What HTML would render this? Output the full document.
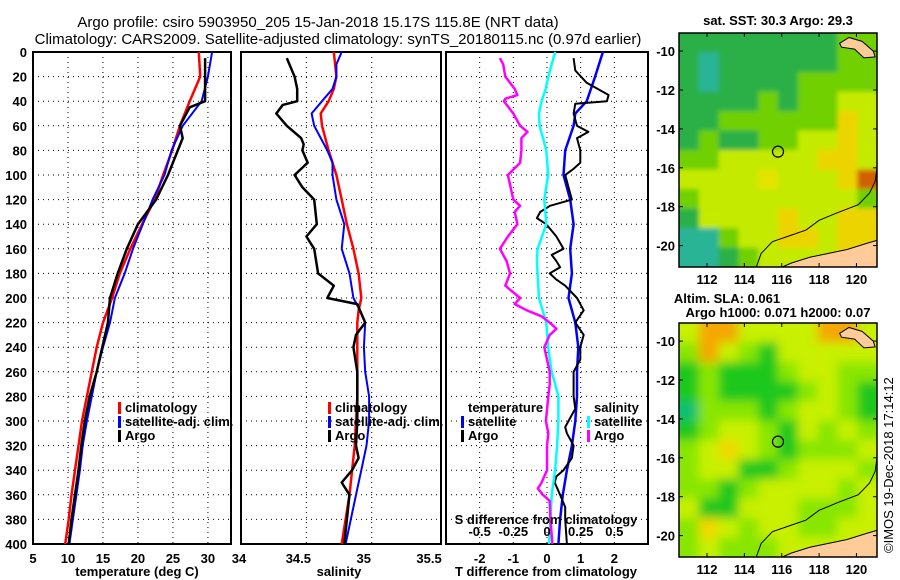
<!DOCTYPE html>
<html><head><meta charset="utf-8"><style>
html,body{margin:0;padding:0;background:#fff;}
svg{display:block;font-family:"Liberation Sans",sans-serif;}
.t{font-weight:bold;font-size:13px;fill:#000;}
</style></head><body>
<svg id="s" width="900" height="580" viewBox="0 0 900 580">
<text x="318" y="27" text-anchor="middle" font-size="15">Argo profile: csiro 5903950_205 15-Jan-2018 15.17S 115.8E (NRT data)</text>
<text x="338" y="44" text-anchor="middle" font-size="15">Climatology: CARS2009. Satellite-adjusted climatology: synTS_20180115.nc (0.97d earlier)</text>
<text x="778" y="25" text-anchor="middle" class="t">sat. SST: 30.3 Argo: 29.3</text>
<text x="727" y="303" text-anchor="middle" class="t">Altim. SLA: 0.061</text>
<text x="778" y="317" text-anchor="middle" class="t">Argo h1000: 0.071 h2000: 0.07</text>
<text transform="translate(893,553) rotate(-90)" font-size="13">©IMOS 19-Dec-2018 17:14:12</text>
</svg>
<script>
// ---- data ----
const depths=[0,20,40,60,80,100,120,140,160,180,200,220,240,260,280,300,320,340,360,380,400];
const tClim=[28.7,28.9,27.4,26.0,24.9,23.6,22.4,20.6,18.9,17.4,16.3,15.0,14.1,13.4,12.7,12.0,11.5,11.0,10.5,10.1,9.6];
const tSat=[30.6,30.0,29.1,26.4,24.8,23.8,22.1,20.7,19.3,18.1,16.7,16.0,15.0,14.1,13.4,12.7,12.1,11.7,11.2,10.7,10.2];
const argoTDepths=[5,20,40,45,60,70,80,100,120,140,160,180,200,220,240,260,280,300,320,340,360,380,400];
const tArgo=[29.6,29.6,29.6,27.4,26.0,26.4,25.7,24.3,22.6,20.0,18.4,17.1,16.0,15.7,14.9,14.1,13.1,12.4,11.9,11.5,11.0,10.5,10.1];
const sDepths=[0,10,20,30,40,50,60,80,90,100,120,140,160,180,200,210,220,240,260,280,300,320,340,360,380,400];
const sClim=[34.71,34.72,34.73,34.71,34.67,34.61,34.62,34.67,34.70,34.73,34.77,34.81,34.86,34.90,34.92,34.90,34.89,34.89,34.89,34.89,34.88,34.87,34.85,34.83,34.80,34.77];
const sSat=[34.77,34.73,34.73,34.70,34.62,34.54,34.56,34.66,34.70,34.70,34.73,34.79,34.77,34.83,34.86,34.91,34.95,34.94,34.95,34.98,34.98,34.96,34.92,34.88,34.84,34.80];
const argoSDepths=[5,10,20,30,40,43,50,60,70,75,80,90,100,110,120,140,150,160,180,190,200,205,220,230,240,260,280,300,320,330,340,350,360,380,400];
const sArgo=[34.35,34.37,34.41,34.43,34.43,34.32,34.27,34.35,34.46,34.48,34.47,34.51,34.41,34.47,34.56,34.58,34.50,34.56,34.59,34.71,34.66,34.89,34.95,34.88,34.86,34.89,34.89,34.89,34.88,34.90,34.85,34.77,34.83,34.81,34.79];
const dSatDepths=[0,20,40,50,60,80,100,120,140,160,180,200,220,240,260,280,300,320,340,360,380,400];
const dTSat=[1.66,1.43,1.18,0.84,0.79,0.54,0.49,0.69,0.79,0.69,0.74,0.64,0.84,0.93,0.89,0.89,0.84,0.74,0.59,0.47,0.39,0.34];
const dArgoDepths=[5,15,25,35,40,42,50,60,65,70,80,90,95,100,110,120,125,130,135,140,150,160,165,170,175,180,185,190,200,210,220,230,240,250,260,280,290,300,305,310,320,330,340,345,350,360,370,380,400];
const dTArgo=[0.79,0.84,1.18,1.83,1.78,0.84,0.79,0.89,1.23,0.89,0.99,0.99,0.79,0.54,0.64,0.74,0.09,-0.20,-0.30,-0.02,0.28,0.49,0.14,0.28,0.39,0.08,0.28,0.54,0.89,1.09,0.84,1.09,0.99,0.99,0.79,0.79,0.84,0.64,0.54,0.59,0.79,0.74,0.49,0.28,0.23,0.39,0.54,0.54,0.59];
const dSSatDepths=[0,10,20,30,40,50,60,70,80,100,120,140,160,170,180,200,220,240,260,270,280,300,320,340,360,380,400];
const dSSat=[0.06,0.035,0.01,-0.01,-0.04,-0.06,-0.055,-0.03,-0.005,0.008,-0.02,-0.005,-0.07,-0.075,-0.07,-0.06,-0.005,0.008,0.035,0.06,0.085,0.085,0.075,0.06,0.035,0.025,0.015];
const dSArgoDepths=[5,10,20,30,35,38,40,50,60,65,70,80,90,100,110,120,125,130,140,150,160,170,180,190,200,205,210,215,220,225,230,240,250,260,270,280,300,310,320,340,350,355,360,365,380,400];
const dSArgo=[-0.35,-0.325,-0.31,-0.24,-0.22,-0.31,-0.32,-0.25,-0.2,-0.145,-0.19,-0.19,-0.2,-0.29,-0.27,-0.25,-0.2,-0.24,-0.22,-0.29,-0.35,-0.3,-0.275,-0.31,-0.2,-0.24,-0.15,-0.04,0.02,0.07,0.02,-0.02,0.0,0.02,0.02,0.01,-0.008,0.01,0.0,0.0,-0.04,-0.068,-0.03,0.02,0.025,0.04];
const tTicks=[5,10,15,20,25,30];
const sTicks=[34,34.5,35,35.5];
const dTTicks=[-2,-1,0,1,2];
const dSTicks=[-0.5,-0.25,0,0.25,0.5];
const depthTicks=[0,20,40,60,80,100,120,140,160,180,200,220,240,260,280,300,320,340,360,380,400];
const lonTicks=[112,114,116,118,120];
const latTicks=[-10,-12,-14,-16,-18,-20];
// map colour grids (rows north->south, cols west->east)
const sstGrid=["GGGGGGGGgg","GtGGGGGGgg","GtGGGGgggg","GGGGgGggyy","GGggggggoy","GgGGggyyoy","ggyyyyyooy","yyyyYyyyoR","gyyyyyyyyg","Gyyyyoyyoo","ttgyyooyoo","ttGgyyyyoo"];
const slaGrid=["yOOyyyyOOy","gOygGyyyyy","GgGGGgyygg","GgGGGGgygG","tgggGgyygG","GgyygGygyg","gyYygGgggy","gyyGGgyyyg","ggGgyyyygy","yGGyyygggy","gYygyyggyy","gygggyyyyy"];
const colors={G:"#2ab046",g:"#6fd000",y:"#c4ea00",Y:"#e4e400",o:"#ecd400",O:"#f5a000",t:"#2ab496",R:"#d06000"};
const slaColors={G:"#1ec81e",g:"#88e600",y:"#c8f000",Y:"#f0d800",o:"#ffbe00",O:"#f4a800",t:"#10c070",R:"#c02000"};

// ---- helpers ----
const S=document.getElementById('s');const NS="http://www.w3.org/2000/svg";
function mk(tag,attrs,parent){const e=document.createElementNS(NS,tag);for(const k in attrs)e.setAttribute(k,attrs[k]);(parent||S).appendChild(e);return e;}
const Y0=52,Y1=544;
const yD=d=>Y0+(d/400)*(Y1-Y0);
function scale(a,b,p0,p1){return v=>p0+(v-a)/(b-a)*(p1-p0);}
const xT=scale(5,33.3,33,231), xS=scale(34,35.53,241,441), xDT=scale(-3,3,446,648), xDS=v=>xDT(v*4);

function panel(x0,x1,name,gridXs){
  const g=mk('g',{});
  
  
  gridXs.forEach(x=>{const l=mk('line',{x1:x,x2:x,y1:Y0,y2:Y1,stroke:'#000','stroke-width':1,'stroke-dasharray':'1 4'},g);});
  depthTicks.slice(1,-1).forEach(d=>{const l=mk('line',{x1:x0,x2:x1,y1:yD(d),y2:yD(d),stroke:'#000','stroke-width':1,'stroke-dasharray':'1 4'},g);});
  const r=mk('rect',{x:x0,y:Y0,width:x1-x0,height:Y1-Y0,fill:'none',stroke:'#000','stroke-width':2},g);
  
  return g;
}
function line(ds,vs,sx,color,w,name){
  const pts=ds.map((d,i)=>sx(vs[i]).toFixed(1)+','+yD(d).toFixed(1)).join(' ');
  const p=mk('polyline',{points:pts,fill:'none',stroke:color,'stroke-width':w,'stroke-linejoin':'round'});
  
  
}
function txt(x,y,s,anchor,name,cls){const t=mk('text',{x:x,y:y,'text-anchor':anchor||'middle',class:cls||'t'});t.textContent=s;return t;}
function legend(x,y,color,label,name){const r=mk('rect',{x:x,y:y-10,width:3,height:12,fill:color});const t=txt(x+7,y,label,'start',name);t.setAttribute('font-size','12.5');}

// ---- panel 1 temperature ----
panel(33,231,'temperature-panel',tTicks.slice(1).map(xT));
line(depths,tClim,xT,'#f00',2.5,'temperature-climatology-line');
line(depths,tSat,xT,'#00f',2,'temperature-satellite-line');
line(argoTDepths,tArgo,xT,'#000',2.5,'temperature-argo-line');
depthTicks.forEach(d=>txt(27,yD(d)+5,String(d),'end','depth-tick-label'));
tTicks.forEach(v=>txt(xT(v),563,String(v),'middle','temperature-tick-label'));
txt(137,576,'temperature (deg C)','middle','temperature-axis-title');
legend(118,412,'#f00','climatology','legend-climatology');
legend(118,426,'#00f','satellite-adj. clim.','legend-satellite');
legend(118,440,'#000','Argo','legend-argo');

// ---- panel 2 salinity ----
panel(241,441,'salinity-panel',[34.5,35].map(xS));
line(sDepths,sClim,xS,'#f00',2.5,'salinity-climatology-line');
line(sDepths,sSat,xS,'#00f',2,'salinity-satellite-line');
line(argoSDepths,sArgo,xS,'#000',2.5,'salinity-argo-line');
sTicks.forEach(v=>txt(v===34?239:xS(v)-8,563,String(v),'middle','salinity-tick-label'));
txt(339,576,'salinity','middle','salinity-axis-title');
legend(328,412,'#f00','climatology','legend-s-climatology');
legend(328,426,'#00f','satellite-adj. clim.','legend-s-satellite');
legend(328,440,'#000','Argo','legend-s-argo');

// ---- panel 3 differences ----
panel(446,648,'difference-panel',dTTicks.map(xDT));
line(dSatDepths,dTSat,xDT,'#00f',2.5,'tdiff-satellite-line');
line(dArgoDepths,dTArgo,xDT,'#000',2,'tdiff-argo-line');
line(dSSatDepths,dSSat,xDS,'#0ff',2.5,'sdiff-satellite-line');
line(dSArgoDepths,dSArgo,xDS,'#f0f',2.5,'sdiff-argo-line');
dTTicks.forEach(v=>txt(xDT(v),563,String(v),'middle','tdiff-tick-label'));
dSTicks.forEach(v=>txt(xDS(v),536,String(v),'middle','sdiff-tick-label'));
txt(546,524,'S difference from climatology','middle','sdiff-axis-title');
txt(546,576,'T difference from climatology','middle','tdiff-axis-title');
txt(468,412,'temperature','start','legend-temperature-heading');
legend(461,426,'#00f','satellite','legend-tdiff-satellite');
legend(461,440,'#000','Argo','legend-tdiff-argo');
txt(594,412,'salinity','start','legend-salinity-heading');
legend(587,426,'#0ff','satellite','legend-sdiff-satellite');
legend(587,440,'#f0f','Argo','legend-sdiff-argo');

// ---- maps ----
function map(top,bot,grid,cols,name,blur){
  const X0=679,X1=877;
  const lonX=scale(110.5,121.1,X0,X1), latY=scale(-9.07,-21.1,top,bot);
  const id=name+'-clip';
  const cp=mk('clipPath',{id:id});mk('rect',{x:X0,y:top,width:X1-X0,height:bot-top},cp);
  const g=mk('g',{'clip-path':'url(#'+id+')'});
  
  const f=mk('filter',{id:name+'-blur',x:'-10%',y:'-10%',width:'120%',height:'120%'});mk('feGaussianBlur',{stdDeviation:blur},f);
  const inner=mk('g',{filter:'url(#'+name+'-blur)'},g);
  const cw=(X1-X0)/10,ch=(bot-top)/12;
  grid.forEach((row,r)=>{[...row].forEach((c,k)=>{const e=mk('rect',{x:X0+k*cw-(k==0?8:0),y:top+r*ch-(r==0?8:0),width:cw+(k==0||k==9?8:0)+0.5,height:ch+(r==0||r==11?8:0)+0.5,fill:cols[c]},inner);});});
  // land
  const land=[[115.8,-21.2],[116.5,-20.9],[117.5,-20.6],[118.5,-20.4],[119.5,-20.2],[120.5,-19.9],[121.2,-19.7],[121.2,-21.2]];
  const lp=mk('polygon',{points:land.map(p=>lonX(p[0])+','+latY(p[1])).join(' '),fill:'#fc9',stroke:'#000','stroke-width':1},g);
  
  const isl=[[119.1,-9.6],[119.6,-9.3],[120.3,-9.5],[120.9,-10.0],[121.0,-10.3],[120.4,-10.35],[119.9,-9.9],[119.2,-9.8]];
  const ip=mk('polygon',{points:isl.map(p=>lonX(p[0])+','+latY(p[1])).join(' '),fill:'#fc9',stroke:'#000','stroke-width':1},g);
  
  const shelf=[[114.6,-21.2],[114.9,-20.4],[115.5,-19.8],[116.4,-19.5],[117.3,-19.2],[118.0,-18.7],[119.0,-18.3],[120.1,-17.9],[120.7,-17.3],[121.0,-16.7],[121.1,-16.0]];
  const sp=mk('polyline',{points:shelf.map(p=>lonX(p[0])+','+latY(p[1])).join(' '),fill:'none',stroke:'#000','stroke-width':1},g);
  
  const c=mk('circle',{cx:lonX(115.8),cy:latY(-15.17),r:5.5,fill:'none',stroke:'#000','stroke-width':1.2});
  
  const fr=mk('rect',{x:X0,y:top,width:X1-X0,height:bot-top,fill:'none',stroke:'#000','stroke-width':1.5});
  
  lonTicks.forEach(v=>{mk('line',{x1:lonX(v),x2:lonX(v),y1:top,y2:top+4,stroke:'#000'});mk('line',{x1:lonX(v),x2:lonX(v),y1:bot,y2:bot-4,stroke:'#000'});txt(lonX(v),bot+17,String(v),'middle','longitude-tick-label');});
  latTicks.forEach(v=>{mk('line',{x1:X0,x2:X0+4,y1:latY(v),y2:latY(v),stroke:'#000'});mk('line',{x1:X1,x2:X1-4,y1:latY(v),y2:latY(v),stroke:'#000'});txt(X0-4,latY(v)+5,String(v),'end','latitude-tick-label');});
}
map(33,267,sstGrid,colors,'sst-map',2.5);
map(323,557,slaGrid,slaColors,'sla-map',5);
</script>
</body></html>
